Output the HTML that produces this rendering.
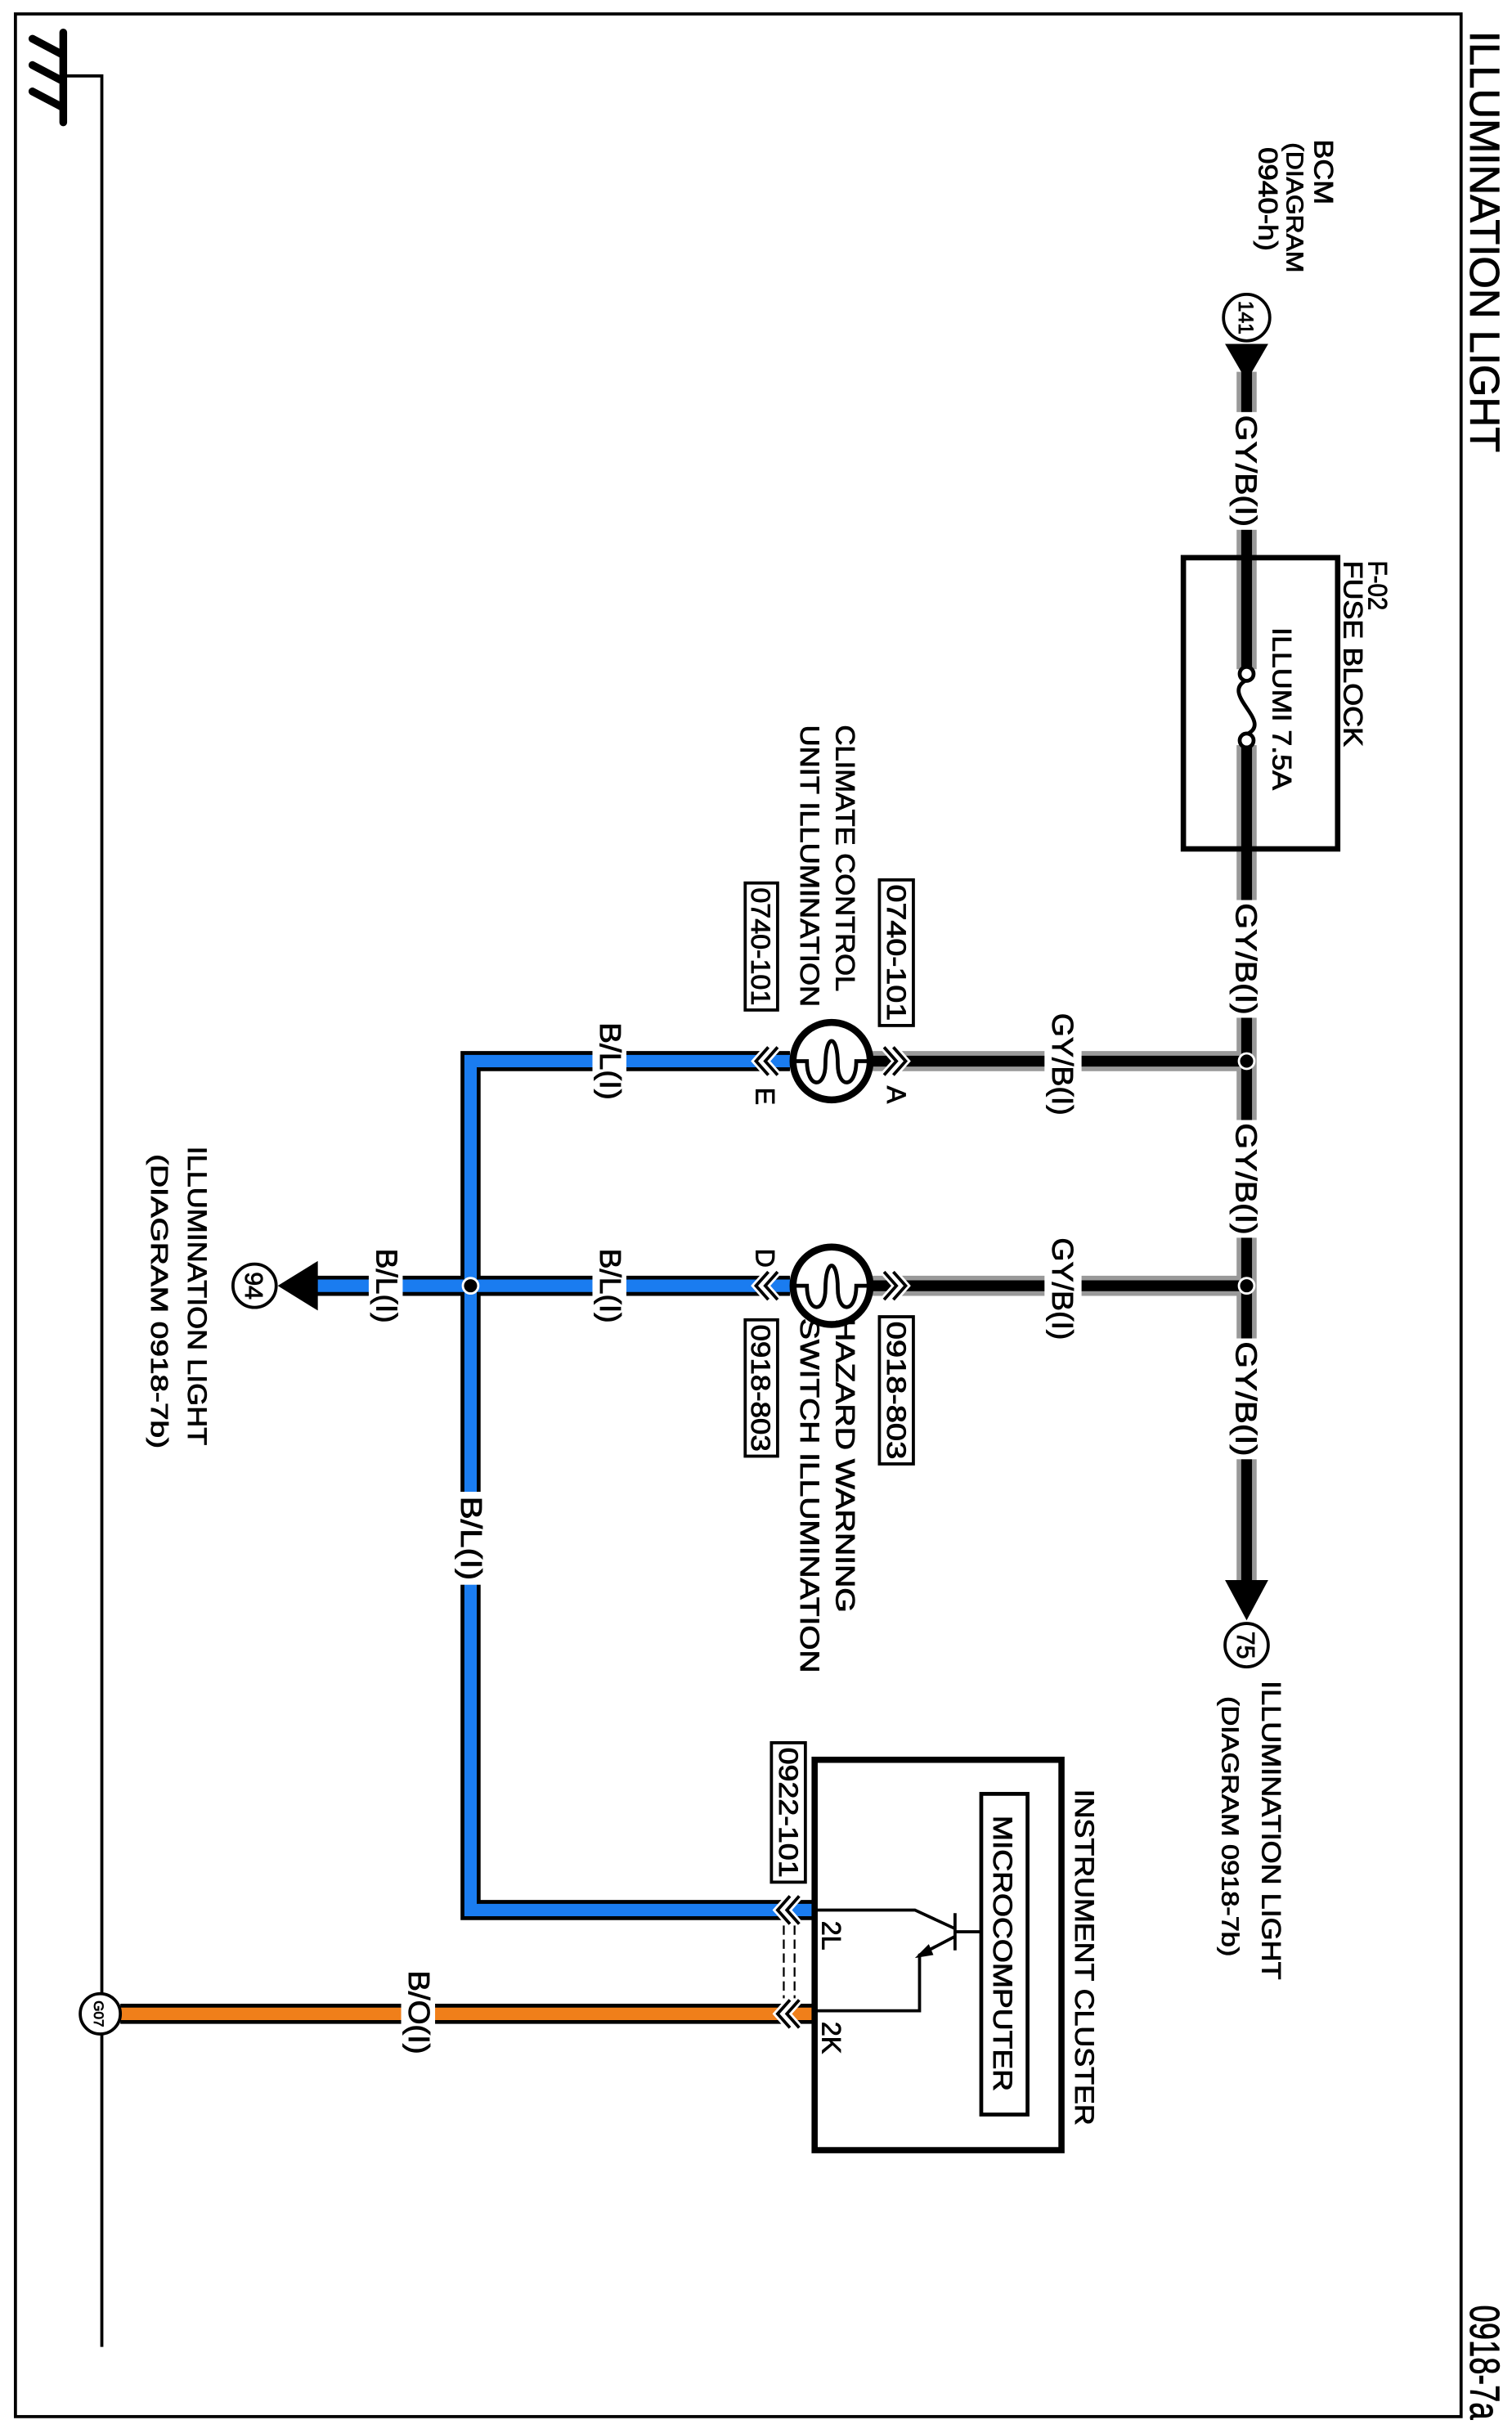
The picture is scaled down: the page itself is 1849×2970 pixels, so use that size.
<!DOCTYPE html>
<html><head><meta charset="utf-8"><style>
html,body{margin:0;padding:0;background:#fff}
svg{display:block}
text{font-family:"Liberation Sans",Arial,sans-serif;fill:#000;stroke:#000;stroke-width:0.45}
</style></head><body>
<svg width="1849" height="2970" viewBox="0 0 980 1568" preserveAspectRatio="none" xmlns="http://www.w3.org/2000/svg">
<rect x="10" y="9" width="937" height="1551" fill="none" stroke="#000" stroke-width="2"/>
<!-- ground -->
<g stroke="#000" stroke-linecap="round" fill="none">
<line x1="41" y1="21" x2="41" y2="79" stroke-width="5"/>
<line x1="21" y1="25" x2="40" y2="35" stroke-width="5"/>
<line x1="21" y1="42" x2="40" y2="52" stroke-width="5"/>
<line x1="21" y1="59" x2="40" y2="69" stroke-width="5"/>
</g>
<polyline points="41,49 66,49 66,1515" fill="none" stroke="#000" stroke-width="2"/>

<!-- GY/B wires -->
<g fill="none">
<path d="M808 240 V1022 M561 685 H808 M561 830 H808" stroke="#999" stroke-width="13"/>
<path d="M808 240 V1022 M561 685 H808 M561 830 H808" stroke="#000" stroke-width="7"/>
</g>
<!-- fuse -->
<rect x="767" y="360" width="100" height="188" fill="none" stroke="#000" stroke-width="3.5"/>
<rect x="800" y="432" width="16" height="49" fill="#fff"/>
<path d="M808 439 C790 448, 826 466, 808 474" fill="none" stroke="#000" stroke-width="2.5"/>
<circle cx="808" cy="435" r="4.5" fill="#fff" stroke="#000" stroke-width="2.5"/>
<circle cx="808" cy="478" r="4.5" fill="#fff" stroke="#000" stroke-width="2.5"/>
<!-- arrows & connectors -->
<polygon points="794,222 822,222 808,246" fill="#000"/>
<circle cx="808" cy="205" r="15" fill="#fff" stroke="#000" stroke-width="2"/>
<text transform="translate(803,205) rotate(90)" font-size="13" text-anchor="middle">141</text>
<polygon points="794,1020 822,1020 808,1046" fill="#000"/>
<circle cx="808" cy="1062" r="14" fill="#fff" stroke="#000" stroke-width="2"/>
<text transform="translate(802,1062) rotate(90)" font-size="16" text-anchor="middle">75</text>

<!-- blue wires -->
<g fill="none" stroke-linejoin="miter">
<path d="M512 685 H305 V1233 H527 M512 830 H192" stroke="#000" stroke-width="13"/>
<path d="M512 685 H305 V1233 H527 M512 830 H192" stroke="#1a7cf0" stroke-width="8"/>
<path d="M527 1300 H78" stroke="#000" stroke-width="13"/>
<path d="M527 1300 H78" stroke="#f07f1a" stroke-width="8"/>
</g>
<polygon points="206,814 206,846 180,830" fill="#000"/>
<circle cx="165" cy="830" r="14" fill="#fff" stroke="#000" stroke-width="2"/>
<text transform="translate(159,830) rotate(90)" font-size="16" text-anchor="middle">94</text>
<circle cx="65" cy="1300" r="13" fill="#fff" stroke="#000" stroke-width="2"/>
<text transform="translate(61,1300) rotate(90)" font-size="9" text-anchor="middle">G07</text>

<!-- junction dots -->
<g fill="#000" stroke="#fff" stroke-width="1.5">
<circle cx="808" cy="685" r="5"/><circle cx="808" cy="830" r="5"/><circle cx="305" cy="830" r="5"/>
</g>

<!-- bulbs -->
<circle cx="539" cy="685" r="25" fill="#fff" stroke="#000" stroke-width="4.5"/>
<path d="M514 685 H523 C523 703,535 703,535 687 C535 667,543 667,543 687 C543 703,555 703,555 685 H564" fill="none" stroke="#000" stroke-width="2.5"/>
<circle cx="539" cy="830" r="25" fill="#fff" stroke="#000" stroke-width="4.5"/>
<path d="M514 830 H523 C523 848,535 848,535 832 C535 812,543 812,543 832 C543 848,555 848,555 830 H564" fill="none" stroke="#000" stroke-width="2.5"/>

<!-- chevrons -->
<g fill="none" stroke-linejoin="miter">
<g stroke="#fff" stroke-width="5">
<path d="M573 676 L581 685 L573 694 M579 676 L587 685 L579 694"/>
<path d="M573 821 L581 830 L573 839 M579 821 L587 830 L579 839"/>
<path d="M498 676 L490 685 L498 694 M504 676 L496 685 L504 694"/>
<path d="M498 821 L490 830 L498 839 M504 821 L496 830 L504 839"/>
<path d="M512 1224 L504 1233 L512 1242 M518 1224 L510 1233 L518 1242"/>
<path d="M512 1291 L504 1300 L512 1309 M518 1291 L510 1300 L518 1309"/>
</g>
<g stroke="#000" stroke-width="2">
<path d="M573 676 L581 685 L573 694 M579 676 L587 685 L579 694"/>
<path d="M573 821 L581 830 L573 839 M579 821 L587 830 L579 839"/>
<path d="M498 676 L490 685 L498 694 M504 676 L496 685 L504 694"/>
<path d="M498 821 L490 830 L498 839 M504 821 L496 830 L504 839"/>
<path d="M512 1224 L504 1233 L512 1242 M518 1224 L510 1233 L518 1242"/>
<path d="M512 1291 L504 1300 L512 1309 M518 1291 L510 1300 L518 1309"/>
</g>
<path d="M508 1243 V1290 M515 1243 V1290" stroke="#000" stroke-width="1.2" stroke-dasharray="6,3"/>
</g>

<!-- instrument cluster -->
<rect x="528" y="1136" width="160" height="252" fill="#fff" stroke="#000" stroke-width="4"/>
<rect x="636" y="1158" width="30" height="207" fill="none" stroke="#000" stroke-width="2.5"/>
<g fill="none" stroke="#000" stroke-width="2">
<path d="M528 1233 H593 L619 1245"/>
<path d="M619 1235 V1259"/>
<path d="M619 1247 H636"/>
<path d="M619 1250 L596 1262 V1298 H528"/>
</g>
<polygon points="593,1264 602,1255 605,1262" fill="#000"/>

<!-- label boxes -->
<g fill="#fff" stroke="#000" stroke-width="2">
<rect x="570" y="568" width="22" height="94"/>
<rect x="483" y="570" width="21" height="82"/>
<rect x="570" y="850" width="22" height="95"/>
<rect x="483" y="852" width="21" height="88"/>
<rect x="500" y="1125" width="22" height="90"/>
</g>

<!-- wire label backgrounds -->
<g fill="#fff">
<rect x="796" y="266" width="24" height="76"/>
<rect x="796" y="581" width="24" height="76"/>
<rect x="796" y="723" width="24" height="76"/>
<rect x="796" y="864" width="24" height="78"/>
<rect x="677" y="672" width="24" height="26"/>
<rect x="677" y="817" width="24" height="26"/>
<rect x="384" y="672" width="22" height="26"/>
<rect x="384" y="817" width="22" height="26"/>
<rect x="239" y="817" width="22" height="26"/>
<rect x="293" y="963" width="24" height="60"/>
<rect x="260" y="1288" width="22" height="24"/>
</g>

<!-- text -->
<g font-size="19">
<text transform="translate(953,20) rotate(90)" font-size="27" textLength="272" lengthAdjust="spacingAndGlyphs">ILLUMINATION LIGHT</text>
<text transform="translate(953,1488) rotate(90)" font-size="27" textLength="74" lengthAdjust="spacingAndGlyphs">0918-7a</text>
<text transform="translate(852,90) rotate(90)" font-size="17" textLength="42" lengthAdjust="spacingAndGlyphs">BCM</text>
<text transform="translate(834,92) rotate(90)" font-size="15" textLength="84" lengthAdjust="spacingAndGlyphs">(DIAGRAM</text>
<text transform="translate(816,95) rotate(90)" font-size="17" textLength="67" lengthAdjust="spacingAndGlyphs">0940-h)</text>
<text transform="translate(887,362) rotate(90)" font-size="17" textLength="32" lengthAdjust="spacingAndGlyphs">F-02</text>
<text transform="translate(871,362) rotate(90)" font-size="17" textLength="120" lengthAdjust="spacingAndGlyphs">FUSE BLOCK</text>
<text transform="translate(825,405) rotate(90)" font-size="17" textLength="105" lengthAdjust="spacingAndGlyphs">ILLUMI 7.5A</text>
<text transform="translate(801,268) rotate(90)" textLength="72" lengthAdjust="spacingAndGlyphs">GY/B(I)</text>
<text transform="translate(801,583) rotate(90)" textLength="72" lengthAdjust="spacingAndGlyphs">GY/B(I)</text>
<text transform="translate(801,725) rotate(90)" textLength="72" lengthAdjust="spacingAndGlyphs">GY/B(I)</text>
<text transform="translate(801,866) rotate(90)" textLength="74" lengthAdjust="spacingAndGlyphs">GY/B(I)</text>
<text transform="translate(682,654) rotate(90)" textLength="66" lengthAdjust="spacingAndGlyphs">GY/B(I)</text>
<text transform="translate(682,799) rotate(90)" textLength="66" lengthAdjust="spacingAndGlyphs">GY/B(I)</text>
<text transform="translate(575,571) rotate(90)" font-size="17" textLength="88" lengthAdjust="spacingAndGlyphs">0740-101</text>
<text transform="translate(487,573) rotate(90)" font-size="17" textLength="76" lengthAdjust="spacingAndGlyphs">0740-101</text>
<text transform="translate(575,853) rotate(90)" font-size="17" textLength="89" lengthAdjust="spacingAndGlyphs">0918-803</text>
<text transform="translate(487,855) rotate(90)" font-size="17" textLength="82" lengthAdjust="spacingAndGlyphs">0918-803</text>
<text transform="translate(542,468) rotate(90)" font-size="17" textLength="172" lengthAdjust="spacingAndGlyphs">CLIMATE CONTROL</text>
<text transform="translate(519,468) rotate(90)" font-size="17" textLength="182" lengthAdjust="spacingAndGlyphs">UNIT ILLUMINATION</text>
<text transform="translate(542,851) rotate(90)" font-size="17" textLength="190" lengthAdjust="spacingAndGlyphs">HAZARD WARNING</text>
<text transform="translate(519,851) rotate(90)" font-size="17" textLength="229" lengthAdjust="spacingAndGlyphs">SWITCH ILLUMINATION</text>
<text transform="translate(575,701) rotate(90)" font-size="17">A</text>
<text transform="translate(490,702) rotate(90)" font-size="17">E</text>
<text transform="translate(490,806) rotate(90)" font-size="17">D</text>
<text transform="translate(389,660) rotate(90)" textLength="50" lengthAdjust="spacingAndGlyphs">B/L(I)</text>
<text transform="translate(389,806) rotate(90)" textLength="48" lengthAdjust="spacingAndGlyphs">B/L(I)</text>
<text transform="translate(244,806) rotate(90)" textLength="48" lengthAdjust="spacingAndGlyphs">B/L(I)</text>
<text transform="translate(299,966) rotate(90)" textLength="54" lengthAdjust="spacingAndGlyphs">B/L(I)</text>
<text transform="translate(265,1272) rotate(90)" textLength="54" lengthAdjust="spacingAndGlyphs">B/O(I)</text>
<text transform="translate(122,740) rotate(90)" font-size="17" textLength="193" lengthAdjust="spacingAndGlyphs">ILLUMINATION LIGHT</text>
<text transform="translate(98,745) rotate(90)" font-size="15" textLength="190" lengthAdjust="spacingAndGlyphs">(DIAGRAM 0918-7b)</text>
<text transform="translate(818,1085) rotate(90)" font-size="17" textLength="193" lengthAdjust="spacingAndGlyphs">ILLUMINATION LIGHT</text>
<text transform="translate(792,1095) rotate(90)" font-size="15" textLength="168" lengthAdjust="spacingAndGlyphs">(DIAGRAM 0918-7b)</text>
<text transform="translate(697,1155) rotate(90)" font-size="17" textLength="217" lengthAdjust="spacingAndGlyphs">INSTRUMENT CLUSTER</text>
<text transform="translate(644,1172) rotate(90)" font-size="17" textLength="178" lengthAdjust="spacingAndGlyphs">MICROCOMPUTER</text>
<text transform="translate(505,1128) rotate(90)" font-size="17" textLength="84" lengthAdjust="spacingAndGlyphs">0922-101</text>
<text transform="translate(533,1240) rotate(90)" font-size="17">2L</text>
<text transform="translate(533,1305) rotate(90)" font-size="17">2K</text>
</g>
</svg>
</body></html>
